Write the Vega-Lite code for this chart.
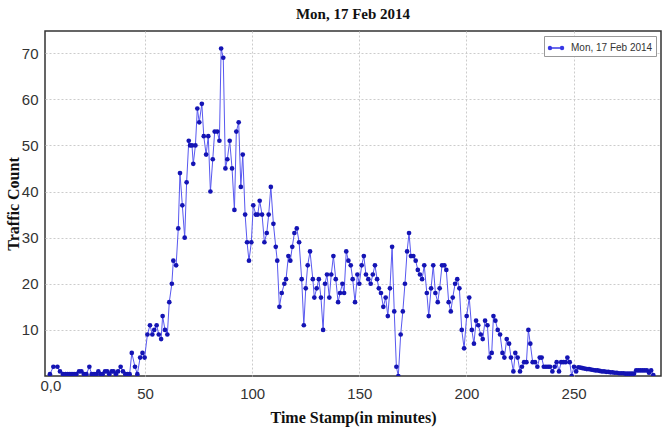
{
  "$schema": "https://vega.github.io/schema/vega-lite/v6.json",
  "width": 616,
  "height": 345,
  "autosize": {"type": "none"},
  "padding": {"left": 45, "top": 31, "right": 5, "bottom": 52},
  "background": "white",
  "title": {"text": "Mon, 17 Feb 2014", "font": "Liberation Serif", "fontSize": 15, "fontWeight": "bold", "color": "#111", "offset": 9, "anchor": "middle"},
  "config": {
    "view": {"stroke": "#333", "strokeWidth": 1.5},
    "axis": {
      "domain": false, "ticks": false,
      "grid": true, "gridColor": "#cccccc", "gridDash": [2, 2], "gridWidth": 1,
      "labelFont": "Liberation Sans", "labelFontSize": 15, "labelColor": "#333",
      "titleFont": "Liberation Serif", "titleFontSize": 16, "titleFontWeight": "bold", "titleColor": "#111"
    }
  },
  "data": {"values": [
    {"t":5.6,"count":0.4},{"t":7.2,"count":2},{"t":9.1,"count":2},{"t":10.3,"count":1},{"t":11.7,"count":0.4},{"t":12.9,"count":0.4},{"t":13.9,"count":0.4},{"t":14.9,"count":0.4},{"t":15.9,"count":0.4},{"t":16.9,"count":0.4},{"t":17.9,"count":0.4},{"t":19.2,"count":1},{"t":20.3,"count":1},{"t":21.5,"count":0.4},{"t":22.6,"count":0.4},{"t":24.0,"count":2},{"t":25.1,"count":0.4},{"t":26.2,"count":0.4},{"t":27.2,"count":0.4},{"t":28.2,"count":1},{"t":29.2,"count":0.4},{"t":30.2,"count":0.4},{"t":31.3,"count":1},{"t":32.3,"count":1},{"t":33.3,"count":0.4},{"t":34.4,"count":1},{"t":35.3,"count":1},{"t":36.4,"count":0.4},{"t":37.4,"count":1},{"t":38.6,"count":2},{"t":39.7,"count":1},{"t":40.8,"count":0.4},{"t":41.8,"count":0.4},{"t":42.8,"count":0.4},{"t":43.8,"count":5},{"t":45.3,"count":2},{"t":46.4,"count":0.4},{"t":47.7,"count":4},{"t":48.8,"count":5},{"t":49.8,"count":4},
    {"t":51.1,"count":9},{"t":52.3,"count":11},{"t":53.4,"count":9},{"t":54.3,"count":10},{"t":55.4,"count":11},{"t":56.4,"count":9},{"t":57.5,"count":8},{"t":58.2,"count":13},{"t":59.3,"count":10},{"t":60.4,"count":9},{"t":61.3,"count":16},{"t":62.5,"count":20},{"t":63.2,"count":25},{"t":64.5,"count":24},{"t":65.5,"count":32},{"t":66.3,"count":44},{"t":67.4,"count":37},{"t":68.5,"count":30},{"t":69.4,"count":42},{"t":70.4,"count":51},{"t":71.0,"count":50},{"t":71.9,"count":50},{"t":72.5,"count":46},{"t":73.5,"count":50},{"t":74.4,"count":58},{"t":75.3,"count":55},{"t":76.5,"count":59},{"t":77.4,"count":52},{"t":78.5,"count":48},{"t":79.5,"count":52},{"t":80.5,"count":40},{"t":81.6,"count":47},{"t":82.5,"count":53},{"t":83.7,"count":53},{"t":84.7,"count":51},{"t":85.5,"count":71},{"t":86.5,"count":69},{"t":87.5,"count":45},{"t":88.4,"count":47},{"t":89.5,"count":51},{"t":90.6,"count":45},{"t":91.7,"count":36},{"t":92.6,"count":53},{"t":93.7,"count":55},{"t":94.7,"count":41},{"t":95.6,"count":48},{"t":96.7,"count":35},{"t":97.6,"count":29},{"t":98.5,"count":25},
    {"t":99.6,"count":29},{"t":100.5,"count":37},{"t":101.7,"count":35},{"t":102.6,"count":35},{"t":103.5,"count":38},{"t":104.6,"count":35},{"t":105.7,"count":29},{"t":106.8,"count":31},{"t":107.7,"count":35},{"t":108.7,"count":41},{"t":109.9,"count":33},{"t":111.0,"count":28},{"t":111.7,"count":25},{"t":112.7,"count":15},{"t":113.8,"count":18},{"t":115.0,"count":20},{"t":115.8,"count":21},{"t":116.9,"count":26},{"t":117.8,"count":25},{"t":118.7,"count":28},{"t":119.7,"count":31},{"t":120.8,"count":32},{"t":121.9,"count":29},{"t":123.1,"count":21},{"t":124.1,"count":11},{"t":125.0,"count":19},{"t":125.9,"count":24},{"t":127.0,"count":27},{"t":128.3,"count":21},{"t":129.0,"count":17},{"t":130.1,"count":19},{"t":131.1,"count":21},{"t":132.1,"count":17},{"t":133.1,"count":10},{"t":134.0,"count":20},{"t":134.9,"count":22},{"t":136.0,"count":17},{"t":136.9,"count":22},{"t":137.9,"count":26},{"t":139.0,"count":21},{"t":140.1,"count":16},{"t":141.0,"count":18},{"t":142.1,"count":20},{"t":142.9,"count":18},{"t":143.9,"count":27},{"t":144.9,"count":25},{"t":146.0,"count":24},{"t":146.9,"count":21},{"t":148.0,"count":16},{"t":149.1,"count":22},{"t":150.0,"count":20},
    {"t":151.1,"count":24},{"t":152.1,"count":26},{"t":153.1,"count":22},{"t":154.2,"count":21},{"t":155.3,"count":20},{"t":156.3,"count":22},{"t":157.3,"count":24},{"t":158.3,"count":21},{"t":159.1,"count":19},{"t":160.1,"count":18},{"t":161.2,"count":15},{"t":162.3,"count":17},{"t":163.3,"count":13},{"t":164.3,"count":19},{"t":165.3,"count":28},{"t":166.3,"count":14},{"t":167.3,"count":2},{"t":168.2,"count":0},{"t":169.3,"count":9},{"t":170.3,"count":14},{"t":171.3,"count":20},{"t":172.3,"count":27},{"t":173.2,"count":31},{"t":174.1,"count":26},{"t":175.2,"count":26},{"t":176.3,"count":25},{"t":177.3,"count":23},{"t":178.3,"count":22},{"t":179.3,"count":21},{"t":180.3,"count":24},{"t":181.5,"count":18},{"t":182.4,"count":13},{"t":183.5,"count":19},{"t":184.5,"count":24},{"t":185.5,"count":18},{"t":186.6,"count":16},{"t":187.5,"count":19},{"t":188.6,"count":24},{"t":189.7,"count":24},{"t":190.6,"count":23},{"t":191.7,"count":16},{"t":192.7,"count":14},{"t":193.6,"count":17},{"t":194.7,"count":20},{"t":195.7,"count":21},{"t":196.7,"count":19},{"t":197.8,"count":10},{"t":198.9,"count":6},{"t":200.1,"count":13},
    {"t":201.3,"count":17},{"t":202.5,"count":10},{"t":203.5,"count":7},{"t":204.5,"count":12},{"t":205.5,"count":11},{"t":206.7,"count":9},{"t":207.6,"count":8},{"t":208.7,"count":12},{"t":209.8,"count":11},{"t":210.7,"count":4},{"t":211.8,"count":5},{"t":212.6,"count":13},{"t":213.5,"count":12},{"t":214.6,"count":10},{"t":215.7,"count":9},{"t":216.8,"count":5},{"t":217.7,"count":4},{"t":218.8,"count":8},{"t":219.9,"count":7},{"t":220.8,"count":4},{"t":221.9,"count":1},{"t":222.8,"count":5},{"t":223.9,"count":4},{"t":225.0,"count":1},{"t":225.9,"count":2},{"t":226.9,"count":3},{"t":228.0,"count":3},{"t":228.9,"count":10},{"t":229.8,"count":7},{"t":230.9,"count":3},{"t":232.0,"count":3},{"t":233.1,"count":2},{"t":234.2,"count":4},{"t":235.1,"count":4},{"t":236.1,"count":2},{"t":237.1,"count":2},{"t":238.1,"count":2},{"t":239.0,"count":2},{"t":240.1,"count":1},{"t":241.2,"count":2},{"t":242.1,"count":3},{"t":243.2,"count":1},{"t":244.2,"count":3},{"t":245.2,"count":3},{"t":246.3,"count":3},{"t":247.1,"count":4},{"t":248.2,"count":3},{"t":249.1,"count":0},{"t":250.2,"count":2},{"t":251.2,"count":1},
    {"t":252.2,"count":1.9},{"t":253.2,"count":1.8},{"t":254.2,"count":1.7},{"t":255.2,"count":1.6},{"t":256.2,"count":1.5},{"t":257.2,"count":1.5},{"t":258.2,"count":1.4},{"t":259.2,"count":1.3},{"t":260.2,"count":1.2},{"t":261.2,"count":1.2},{"t":262.2,"count":1.1},{"t":263.2,"count":1.0},{"t":264.2,"count":1.0},{"t":265.2,"count":0.9},{"t":266.2,"count":0.9},{"t":267.2,"count":0.8},{"t":268.2,"count":0.8},{"t":269.2,"count":0.7},{"t":270.2,"count":0.7},{"t":271.2,"count":0.6},{"t":272.2,"count":0.6},{"t":273.2,"count":0.6},{"t":274.2,"count":0.5},{"t":275.2,"count":0.5},{"t":276.2,"count":0.5},{"t":277.2,"count":0.5},{"t":278.2,"count":0.5},{"t":279.2,"count":1.2},{"t":280.2,"count":1.2},{"t":281.2,"count":1.2},{"t":282.2,"count":1.2},{"t":283.2,"count":1.2},{"t":284.2,"count":1.2},{"t":285.2,"count":0.7},{"t":286.2,"count":1.2},{"t":287.2,"count":0.2}
  ]},
  "encoding": {
    "x": {"field": "t", "type": "quantitative", "title": "Time Stamp(in minutes)",
      "scale": {"domain": [3.3, 290.8], "nice": false, "zero": false},
      "axis": {"values": [3.3, 50, 100, 150, 200, 250], "titlePadding": 8,
        "labelExpr": "datum.value < 10 ? '0,0' : datum.label",
        "labelPadding": {"condition": {"test": "datum.value < 10", "value": 2}, "value": 10},
        "labelOffset": {"condition": {"test": "datum.value < 10", "value": -5}, "value": 0},
        "gridOpacity": {"condition": {"test": "datum.value < 10", "value": 0}, "value": 1}}},
    "y": {"field": "count", "type": "quantitative", "title": "Traffic Count",
      "scale": {"domain": [0, 74.8], "nice": false},
      "axis": {"values": [10, 20, 30, 40, 50, 60, 70], "labelPadding": 7, "titlePadding": 0}}
  },
  "layer": [
    {"mark": {"type": "line", "color": "#5858f0", "strokeWidth": 1, "clip": true}},
    {"mark": {"type": "point", "filled": true, "size": 22, "opacity": 1, "clip": true},
      "encoding": {"color": {"datum": "Mon, 17 Feb 2014", "type": "nominal",
        "scale": {"range": ["#1414b4"]},
        "legend": {"title": null, "orient": "top-right", "offset": 5, "padding": 3,
          "strokeColor": "#999", "fillColor": "white", "cornerRadius": 0,
          "labelFont": "Liberation Sans", "labelFontSize": 10, "labelColor": "#333", "labelOffset": 6,
          "symbolType": "M-1,0L1,0M-0.75,-0.2A0.2,0.2 0 1,1 -0.75,0.2A0.2,0.2 0 1,1 -0.75,-0.2ZM0.75,-0.2A0.2,0.2 0 1,1 0.75,0.2A0.2,0.2 0 1,1 0.75,-0.2Z",
          "symbolSize": 256, "symbolOffset": 0, "symbolStrokeWidth": 1.3, "symbolStrokeColor": "#3a3ae6",
          "encode": {"symbols": {"update": {"stroke": {"value": "#3a3ae6"}, "strokeWidth": {"value": 1.3}, "fill": {"value": "#1414b4"}, "opacity": {"value": 1}, "strokeOpacity": {"value": 1}}}}}}}}
  ]
}
